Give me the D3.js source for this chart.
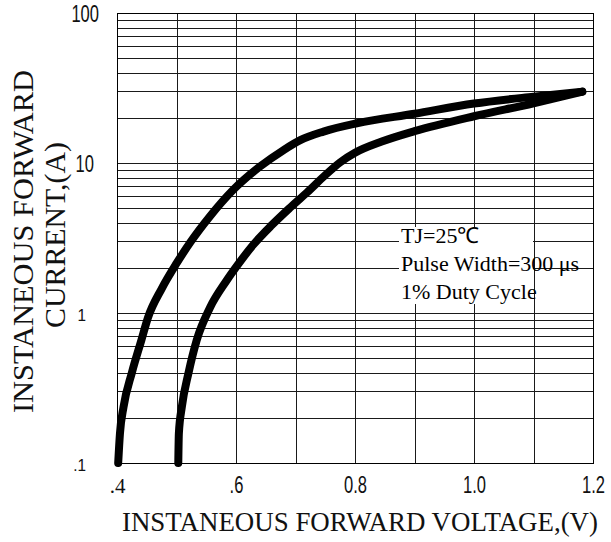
<!DOCTYPE html>
<html>
<head>
<meta charset="utf-8">
<script src="https://cdn.jsdelivr.net/npm/d3@7"></script>
<style>
  html, body { margin: 0; padding: 0; background: #fff; }
  svg { display: block; }
</style>
</head>
<body>
<svg id="chart" width="611" height="542"></svg>
<script>
// ---- data ----
const xTickValues = [0.4, 0.6, 0.8, 1.0, 1.2];
const xTickLabels = [".4", ".6", "0.8", "1.0", "1.2"];
const yTickValues = [0.1, 1, 10, 100];
const yTickLabels = [".1", "1", "10", "100"];
const xGridValues = [0.4, 0.5, 0.6, 0.7, 0.8, 0.9, 1.0, 1.1, 1.2];

// left curve (lower forward voltage)
const curveA = [
  [0.402, 0.1], [0.405, 0.158], [0.411, 0.237], [0.425, 0.40], [0.441, 0.66],
  [0.452, 0.93], [0.475, 1.45], [0.500, 2.14], [0.523, 2.95], [0.556, 4.4],
  [0.595, 6.6], [0.640, 9.45], [0.680, 12.2], [0.708, 14.2], [0.747, 16.2],
  [0.803, 18.4], [0.900, 21.3], [1.00, 24.9], [1.10, 27.7], [1.182, 29.9]
];
// right curve (higher forward voltage)
const curveB = [
  [0.503, 0.1], [0.504, 0.158], [0.509, 0.237], [0.520, 0.396], [0.534, 0.66],
  [0.556, 1.08], [0.584, 1.64], [0.605, 2.15], [0.629, 2.85], [0.660, 3.85],
  [0.690, 5.0], [0.720, 6.4], [0.750, 8.3], [0.775, 10.1], [0.800, 11.7],
  [0.845, 13.9], [0.900, 16.3], [1.00, 20.5], [1.10, 25.0], [1.182, 29.9]
];

const legendLines = ["TJ=25\u2103", "Pulse Width=300 \u03bcs", "1% Duty Cycle"];
const xTitle = "INSTANEOUS FORWARD VOLTAGE,(V)";
const yTitle = ["INSTANEOUS FORWARD", "CURRENT,(A)"];

// ---- layout ----
const svg = d3.select("#chart");
const L = 117, R = 593, T = 13, B = 463;
const x = d3.scaleLinear().domain([0.4, 1.2]).range([L, R]);
const y = d3.scaleLog().domain([0.1, 100]).range([B, T]);

// grid
const grid = svg.append("g").attr("shape-rendering", "crispEdges");
grid.selectAll("line.h").data(y.ticks()).join("line")
  .attr("class", "h")
  .attr("x1", L).attr("x2", R)
  .attr("y1", d => Math.round(y(d)) + 0.5).attr("y2", d => Math.round(y(d)) + 0.5)
  .attr("stroke", "#1a1a1a").attr("stroke-width", 1);
grid.selectAll("line.v").data(xGridValues).join("line")
  .attr("class", "v")
  .attr("y1", T).attr("y2", B)
  .attr("x1", d => Math.round(x(d)) + 0.5).attr("x2", d => Math.round(x(d)) + 0.5)
  .attr("stroke", "#1a1a1a").attr("stroke-width", 1);
svg.append("rect")
  .attr("x", L + 0.5).attr("y", T + 0.5)
  .attr("width", R - L).attr("height", B - T)
  .attr("fill", "none").attr("stroke", "#000").attr("stroke-width", 1)
  .attr("shape-rendering", "crispEdges");

// legend background + text
svg.append("rect").attr("x", 399).attr("y", 227).attr("width", 134).attr("height", 77)
  .attr("fill", "#fff");
svg.append("g").selectAll("text").data(legendLines).join("text")
  .attr("x", 401)
  .attr("y", (d, i) => 243 + i * 28)
  .attr("font-family", "'Liberation Serif', 'Times New Roman', serif")
  .attr("font-size", 22)
  .attr("fill", "#000")
  .text(d => d);

// curves
const line = d3.line()
  .x(d => x(d[0])).y(d => y(d[1]))
  .curve(d3.curveMonotoneX);
svg.append("g").selectAll("path").data([curveA, curveB]).join("path")
  .attr("d", line)
  .attr("fill", "none").attr("stroke", "#000")
  .attr("stroke-width", 8).attr("stroke-linecap", "round").attr("stroke-linejoin", "round");

// x axis labels
const xAxis = d3.axisBottom(x).tickValues(xTickValues)
  .tickFormat((d, i) => xTickLabels[i]).tickSize(0).tickPadding(0);
const gx = svg.append("g").attr("transform", `translate(0,${B})`).call(xAxis);
gx.select(".domain").remove();
gx.selectAll("text")
  .attr("y", 30).attr("dy", null)
  .attr("fill", "#111")
  .attr("font-family", (d, i) => i === 0 ? "'Liberation Serif', serif" : "'Liberation Sans', Arial, sans-serif")
  .attr("font-size", (d, i) => i === 0 ? 21 : 23)
  .attr("transform", (d, i) => i === 0 ? null : "scale(0.72,1)");

// y axis labels
const yAxis = d3.axisLeft(y).tickValues(yTickValues)
  .tickFormat((d, i) => yTickLabels[i]).tickSize(0).tickPadding(0);
const gy = svg.append("g").attr("transform", `translate(${L},0)`).call(yAxis);
gy.select(".domain").remove();
gy.selectAll("text")
  .attr("x", 0).attr("dy", null)
  .attr("y", 0)
  .attr("fill", "#111")
  .attr("font-family", "'Liberation Sans', Arial, sans-serif")
  .attr("font-size", d => d >= 10 ? 23 : 17)
  .attr("text-anchor", "end")
  .attr("transform", d => `translate(${d >= 100 ? -18 : d >= 10 ? -23 : -31},${d >= 10 ? 8 : 7}) scale(${d >= 10 ? 0.72 : 0.9},1)`);

// axis titles
svg.append("text")
  .attr("x", 122).attr("y", 531)
  .attr("font-family", "'Liberation Serif', 'Times New Roman', serif")
  .attr("font-size", 27)
  .attr("textLength", 476).attr("lengthAdjust", "spacingAndGlyphs")
  .attr("fill", "#111")
  .text(xTitle);

const yt = svg.append("g");
yt.append("text")
  .attr("transform", "translate(33,241.5) rotate(-90)")
  .attr("text-anchor", "middle")
  .attr("font-family", "'Liberation Serif', 'Times New Roman', serif")
  .attr("font-size", 29)
  .attr("textLength", 343).attr("lengthAdjust", "spacingAndGlyphs")
  .attr("fill", "#111")
  .text(yTitle[0]);
yt.append("text")
  .attr("transform", "translate(65,235) rotate(-90)")
  .attr("text-anchor", "middle")
  .attr("font-family", "'Liberation Serif', 'Times New Roman', serif")
  .attr("font-size", 29)
  .attr("textLength", 186).attr("lengthAdjust", "spacingAndGlyphs")
  .attr("fill", "#111")
  .text(yTitle[1]);
</script>
</body>
</html>
